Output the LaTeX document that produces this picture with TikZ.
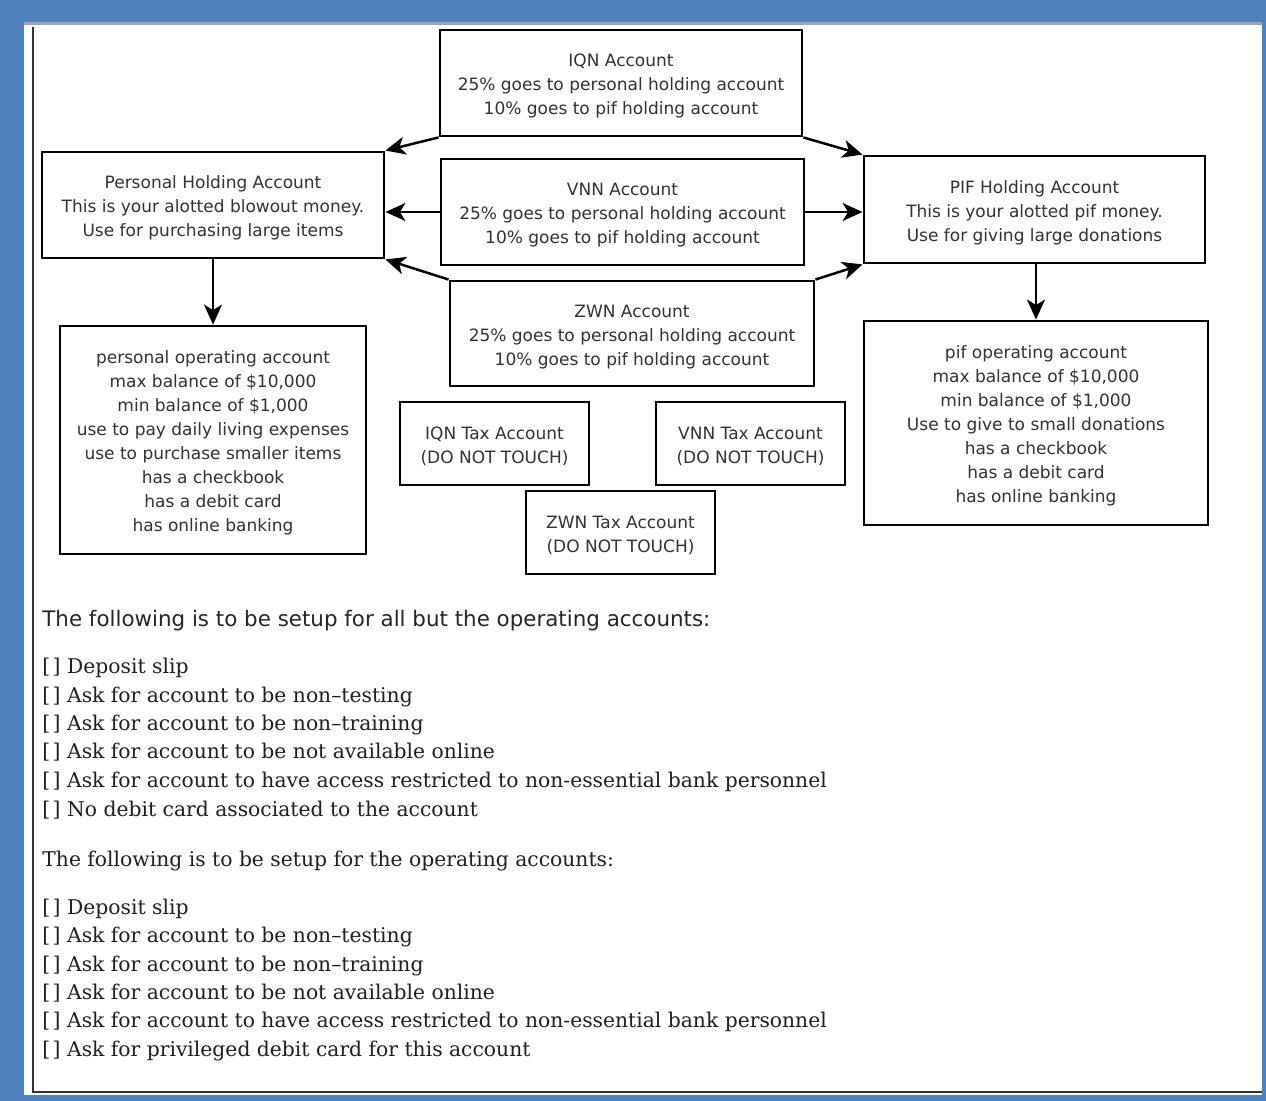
\documentclass[tikz,border=0pt]{standalone}
\usepackage{fontspec}
\setmainfont{DejaVu Serif}
\newfontfamily\dvsans{DejaVu Sans}
\usetikzlibrary{arrows.meta,calc}
\definecolor{frameblue}{RGB}{79,129,189}
\definecolor{txtgray}{RGB}{50,50,50}
\definecolor{topline}{RGB}{150,165,185}
\newcommand\tstrut{\rule{0pt}{9.5pt}}
\begin{document}
\begin{tikzpicture}[x=0.5pt,y=-0.5pt,
  acct/.style={draw=black,line width=1.45pt,fill=white,align=center,
    font=\dvsans\fontsize{8.5}{12}\selectfont,text=txtgray,inner sep=0pt},
  flow/.style={line width=1.25pt,-{Stealth[length=10pt,width=9pt,inset=2.8pt]}},
  chk/.style={anchor=base west,inner sep=0pt,font=\fontsize{10.15}{12}\selectfont,text=black!88},
  headsans/.style={anchor=base west,inner sep=0pt,font=\dvsans\fontsize{10.7}{12}\selectfont,text=black!85}
]
% frame
\fill[frameblue] (0,0) rectangle (1266,1101);
\fill[white] (24,22) rectangle (1262,1095);
\draw[topline,line width=1.5pt] (24,24) -- (1262,24);
\draw[black!80,line width=0.8pt] (33,27) -- (33,1092) -- (1262,1092);

% account boxes
\node[acct,minimum width=181pt,minimum height=53pt] (iqn) at (621,83)
  {\tstrut IQN Account\\25\% goes to personal holding account\\10\% goes to pif holding account};
\node[acct,minimum width=171pt,minimum height=53pt] (ph) at (213,205)
  {\tstrut Personal Holding Account\\This is your alotted blowout money.\\Use for purchasing large items};
\node[acct,minimum width=181.5pt,minimum height=53pt] (vnn) at (622.5,212)
  {\tstrut VNN Account\\25\% goes to personal holding account\\10\% goes to pif holding account};
\node[acct,minimum width=170.5pt,minimum height=53.5pt] (pif) at (1034.5,209.5)
  {\tstrut PIF Holding Account\\This is your alotted pif money.\\Use for giving large donations};
\node[acct,minimum width=182pt,minimum height=52.5pt] (zwn) at (632,333.5)
  {\tstrut ZWN Account\\25\% goes to personal holding account\\10\% goes to pif holding account};
\node[acct,minimum width=153pt,minimum height=114pt] (pop) at (213,440)
  {\tstrut personal operating account\\max balance of \$10,000\\min balance of \$1,000\\use to pay daily living expenses\\use to purchase smaller items\\has a checkbook\\has a debit card\\has online banking};
\node[acct,minimum width=172pt,minimum height=102pt] (fop) at (1036,423)
  {\tstrut pif operating account\\max balance of \$10,000\\min balance of \$1,000\\Use to give to small donations\\has a checkbook\\has a debit card\\has online banking};
\node[acct,minimum width=94.5pt,minimum height=41.5pt] (iqntax) at (494.5,443.5)
  {\tstrut IQN Tax Account\\(DO NOT TOUCH)};
\node[acct,minimum width=94.5pt,minimum height=41.5pt] (vnntax) at (750.5,443.5)
  {\tstrut VNN Tax Account\\(DO NOT TOUCH)};
\node[acct,minimum width=94.5pt,minimum height=41.5pt] (zwntax) at (620.5,532.5)
  {\tstrut ZWN Tax Account\\(DO NOT TOUCH)};

% connectors
\draw[flow] (iqn.south west) -- (ph.north east);
\draw[flow] (iqn.south east) -- (pif.north west);
\draw[flow] (vnn.west) -- (vnn.west -| ph.east);
\draw[flow] (vnn.east) -- (vnn.east -| pif.west);
\draw[flow] (zwn.north west) -- (ph.south east);
\draw[flow] (zwn.north east) -- (pif.south west);
\draw[flow] (ph.south) -- (ph.south |- pop.north);
\draw[flow] (pif.south -| fop.north) -- (fop.north);

% checklists
\node[headsans] (h1) at (42,627) {The following is to be setup for all but the operating accounts:};
\node[chk] (a1) at (42,674) {[\kern0.12em]\ Deposit slip};
\node[chk] (a2) at (42,703) {[\kern0.12em]\ Ask for account to be non–testing};
\node[chk] (a3) at (42,731) {[\kern0.12em]\ Ask for account to be non–training};
\node[chk] (a4) at (42,759) {[\kern0.12em]\ Ask for account to be not available online};
\node[chk] (a5) at (42,788) {[\kern0.12em]\ Ask for account to have access restricted to non-essential bank personnel};
\node[chk] (a6) at (42,817) {[\kern0.12em]\ No debit card associated to the account};
\node[chk] (h2) at (42,867) {The following is to be setup for the operating accounts:};
\node[chk] (b1) at (42,915) {[\kern0.12em]\ Deposit slip};
\node[chk] (b2) at (42,943) {[\kern0.12em]\ Ask for account to be non–testing};
\node[chk] (b3) at (42,972) {[\kern0.12em]\ Ask for account to be non–training};
\node[chk] (b4) at (42,1000) {[\kern0.12em]\ Ask for account to be not available online};
\node[chk] (b5) at (42,1028) {[\kern0.12em]\ Ask for account to have access restricted to non-essential bank personnel};
\node[chk] (b6) at (42,1057) {[\kern0.12em]\ Ask for privileged debit card for this account};
\end{tikzpicture}
\end{document}
